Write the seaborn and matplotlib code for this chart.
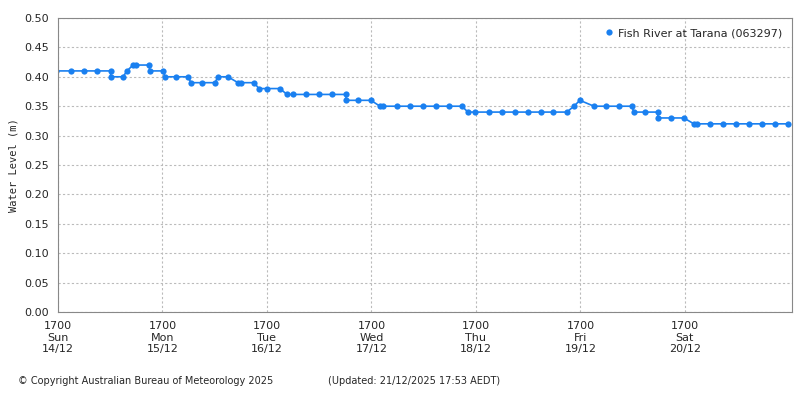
import matplotlib
matplotlib.use("Agg")
import matplotlib.pyplot as plt
import seaborn as sns
import pandas as pd
import numpy as np

sns.set_style("white")
plt.rcParams['font.family'] = ['DejaVu Sans']

px = [56, 71, 84, 97, 110.7, 110.7, 123, 127, 133, 136, 149, 150, 163, 165, 176, 188, 191, 202, 215, 218, 228,
      238, 241, 254, 259, 267, 280, 287, 293, 306, 319, 332, 346, 346, 358, 371, 380, 383, 397,
      410, 423, 436, 449, 462, 468, 475, 489, 502, 515, 528, 541, 553, 567, 574, 580, 594, 606, 619, 632, 634,
      645, 658, 658, 671, 684, 694, 697, 710, 723, 736, 749, 762, 775, 788]
levels = [0.41, 0.41, 0.41, 0.41, 0.41, 0.40, 0.40, 0.41, 0.42, 0.42, 0.42, 0.41, 0.41, 0.40, 0.40, 0.40, 0.39, 0.39, 0.39, 0.40, 0.40,
          0.39, 0.39, 0.39, 0.38, 0.38, 0.38, 0.37, 0.37, 0.37, 0.37, 0.37, 0.37, 0.36, 0.36, 0.36, 0.35, 0.35, 0.35,
          0.35, 0.35, 0.35, 0.35, 0.35, 0.34, 0.34, 0.34, 0.34, 0.34, 0.34, 0.34, 0.34, 0.34, 0.35, 0.36, 0.35, 0.35, 0.35, 0.35, 0.34,
          0.34, 0.34, 0.33, 0.33, 0.33, 0.32, 0.32, 0.32, 0.32, 0.32, 0.32, 0.32, 0.32, 0.32]
start = pd.Timestamp("2025-12-14 17:00")
hours = [(p - 58) / 104.5 * 24 for p in px]
times = [start + pd.Timedelta(hours=h) for h in hours]
df = pd.DataFrame({"time": times, "level": levels})

fig = plt.figure(figsize=(8, 4), dpi=100)
ax = fig.add_axes([0.0725, 0.22, 0.918, 0.735])
c = "#1a80f0"
sns.lineplot(data=df, x="time", y="level", ax=ax, color=c, lw=1.2, marker="o", markersize=4.5,
             markeredgewidth=0, estimator=None, sort=False, label="Fish River at Tarana (063297)")
ax.set_xlim(start, start + pd.Timedelta(hours=168.7))
ax.set_ylim(0, 0.5)
ax.set_yticks(np.arange(0, 0.501, 0.05))
ax.set_yticklabels([f"{v:.2f}" for v in np.arange(0, 0.501, 0.05)], fontsize=8)
days = ["Sun\n14/12", "Mon\n15/12", "Tue\n16/12", "Wed\n17/12", "Thu\n18/12", "Fri\n19/12", "Sat\n20/12"]
ticks = [start + pd.Timedelta(days=i) for i in range(7)]
ax.set_xticks(ticks)
ax.set_xticklabels(["1700\n" + d for d in days], fontsize=8)
ax.set_xlabel("")
ax.set_ylabel("Water Level (m)", fontsize=7.5, family="DejaVu Sans Mono")
ax.grid(True, ls=(0, (2, 2)), color="#bbbbbb", lw=0.8)
for s in ax.spines.values():
    s.set_color("#888888")
ax.tick_params(length=3, color="#888888")
leg = ax.legend(loc="upper right", frameon=False, fontsize=8, handlelength=0.6, handletextpad=0.5)
for h in leg.legend_handles:
    h.set_linestyle("")
fig.text(0.022, 0.04, "© Copyright Australian Bureau of Meteorology 2025", fontsize=7)
fig.text(0.41, 0.04, "(Updated: 21/12/2025 17:53 AEDT)", fontsize=7)
fig.savefig("out.png", dpi=100)
